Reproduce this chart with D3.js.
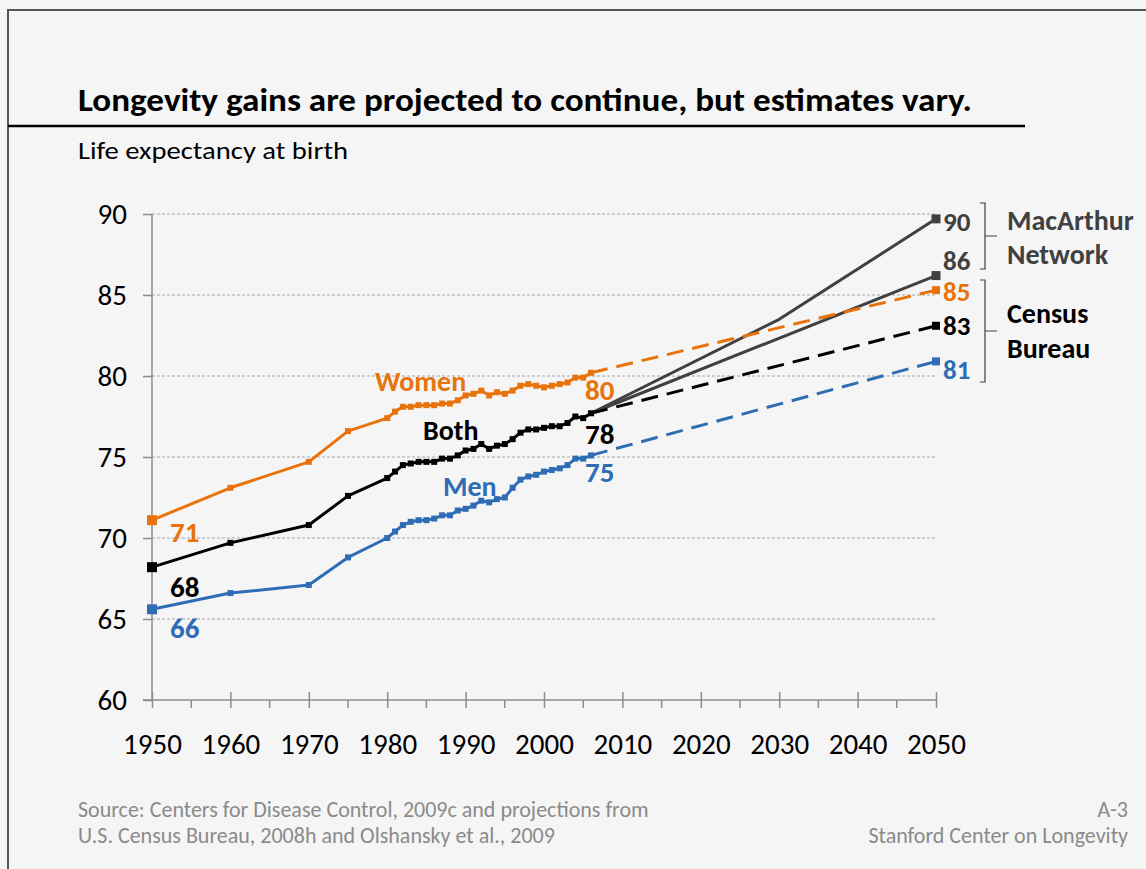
<!DOCTYPE html>
<html><head><meta charset="utf-8">
<script src="https://cdn.jsdelivr.net/npm/d3@7"></script>
<style>
html,body{margin:0;padding:0;background:#f5f5f5;}
svg{display:block;}
text{font-family:Carlito,Calibri,Lato,"Open Sans",sans-serif;}
</style></head>
<body>
<svg id="chart" width="1146" height="869"></svg>
<script>
// ---- Data ----
const histYears = [1950,1960,1970,1975,1980,1981,1982,1983,1984,1985,1986,1987,1988,1989,1990,1991,1992,1993,1994,1995,1996,1997,1998,1999,2000,2001,2002,2003,2004,2005,2006];
const women = [71.1,73.1,74.7,76.6,77.4,77.8,78.1,78.1,78.2,78.2,78.2,78.3,78.3,78.5,78.8,78.9,79.1,78.8,79.0,78.9,79.1,79.4,79.5,79.4,79.3,79.4,79.5,79.6,79.9,79.9,80.2];
const both  = [68.2,69.7,70.8,72.6,73.7,74.1,74.5,74.6,74.7,74.7,74.7,74.9,74.9,75.1,75.4,75.5,75.8,75.5,75.7,75.8,76.1,76.5,76.7,76.7,76.8,76.9,76.9,77.1,77.5,77.4,77.7];
const men   = [65.6,66.6,67.1,68.8,70.0,70.4,70.8,71.0,71.1,71.1,71.2,71.4,71.4,71.7,71.8,72.0,72.3,72.2,72.4,72.5,73.1,73.6,73.8,73.9,74.1,74.2,74.3,74.5,74.9,74.9,75.1];
const projYears = [2006,2050];
const censusWomen = [80.2,85.3];
const censusBoth  = [77.7,83.1];
const censusMen   = [75.1,80.9];
const macYearsHigh = [2006,2030,2050];
const macHigh = [77.7,83.5,89.7];
const macYearsLow = [2006,2050];
const macLow = [77.7,86.2];
const yTicks = [60,65,70,75,80,85,90];
const xTicks = [1950,1960,1970,1980,1990,2000,2010,2020,2030,2040,2050];
const xMinorTicks = [1955,1965,1975,1985,1995,2005,2015,2025,2035,2045];
// end-of-line value labels (text, vertical anchor in data units)
const endLabels = [
  {text:"90", at:89.5, color:"#404040"},
  {text:"86", at:87.1, color:"#404040"},
  {text:"85", at:85.2, color:"#e8730c"},
  {text:"83", at:83.1, color:"#000000"},
  {text:"81", at:80.4, color:"#2e6db4"}
];

// ---- Styles ----
const C = {women:"#e8730c", both:"#000000", men:"#2e6db4", mac:"#404040", grid:"#a6a6a6", axis:"#8c8c8c", src:"#8a8a8a"};
const F = "Carlito,Calibri,Lato,sans-serif";

const svg = d3.select("#chart");
const x = d3.scaleLinear().domain([1950,2050]).range([152,936]);
const y = d3.scaleLinear().domain([60,90]).range([700,214]);

// frame
svg.append("rect").attr("x",8).attr("y",10).attr("width",1150).attr("height",880)
  .attr("fill","#f5f5f5").attr("stroke","#555").attr("stroke-width",2);

// title
svg.append("text").attr("x",78).attr("y",111).attr("font-size",32).attr("font-weight","bold")
  .attr("fill","#000").text("Longevity gains are projected to continue, but estimates vary.")
  .attr("textLength",894).attr("lengthAdjust","spacingAndGlyphs");
svg.append("line").attr("x1",8).attr("x2",1025).attr("y1",126).attr("y2",126).attr("stroke","#000").attr("stroke-width",2.5);
svg.append("text").attr("x",78).attr("y",159).attr("font-size",25).attr("fill","#000")
  .text("Life expectancy at birth").attr("textLength",270).attr("lengthAdjust","spacingAndGlyphs");

// gridlines
svg.append("g").selectAll("line").data(yTicks.filter(d=>d>60)).join("line")
  .attr("x1",x(1950)).attr("x2",x(2050)).attr("y1",d=>y(d)).attr("y2",d=>y(d))
  .attr("stroke",C.grid).attr("stroke-width",1).attr("stroke-dasharray","3,2");

// y axis
const yAxis = d3.axisLeft(y).tickValues(yTicks).tickSize(9).tickPadding(16).tickFormat(d3.format("d"));
const gy = svg.append("g").attr("transform",`translate(${x(1950)},0)`).call(yAxis);
gy.select(".domain").attr("stroke",C.axis).attr("stroke-width",1.5).attr("d",`M0,${y(90)}V${y(60)}`);
gy.selectAll(".tick line").attr("stroke",C.axis).attr("stroke-width",1.5);
gy.selectAll(".tick text").attr("font-size",29).attr("fill","#000").attr("font-family",F);

// x axis
const xAxis = d3.axisBottom(x).tickValues(xTicks).tickSize(8).tickPadding(25).tickFormat(d3.format("d"));
const gx = svg.append("g").attr("transform",`translate(0,${y(60)})`).call(xAxis);
gx.select(".domain").attr("stroke",C.axis).attr("stroke-width",1.5).attr("d",`M${x(1950)-9},0H${x(2050)}`);
gx.selectAll(".tick line").attr("stroke",C.axis).attr("stroke-width",1.5).attr("y1",-8);
gx.selectAll(".tick text").attr("font-size",29).attr("fill","#000").attr("font-family",F);
svg.append("g").selectAll("line").data(xMinorTicks).join("line")
  .attr("x1",d=>x(d)).attr("x2",d=>x(d)).attr("y1",y(60)).attr("y2",y(60)+8)
  .attr("stroke",C.axis).attr("stroke-width",1.5);

const line = d3.line().x(d=>x(d[0])).y(d=>y(d[1]));
const zip = (a,b)=>a.map((v,i)=>[v,b[i]]);

function drawLine(pts,color,dash,width){
  svg.append("path").datum(pts).attr("d",line).attr("fill","none").attr("stroke",color)
    .attr("stroke-width",width||3).attr("stroke-dasharray",dash||null).attr("stroke-linejoin","round");
}
function drawMarkers(pts,color,size){
  svg.append("g").selectAll("rect").data(pts).join("rect")
    .attr("x",d=>x(d[0])-size/2).attr("y",d=>y(d[1])-size/2).attr("width",size).attr("height",size).attr("fill",color);
}

// MacArthur
drawLine(zip(macYearsHigh,macHigh),C.mac,null,3);
drawLine(zip(macYearsLow,macLow),C.mac,null,3);
drawMarkers([[2050,macHigh[2]],[2050,macLow[1]]],C.mac,9);

// Census projections
drawLine(zip(projYears,censusWomen),C.women,"17,9",3);
drawLine(zip(projYears,censusBoth),C.both,"17,9",3);
drawLine(zip(projYears,censusMen),C.men,"17,9",3);
drawMarkers([[2050,censusWomen[1]]],C.women,8);
drawMarkers([[2050,censusBoth[1]]],C.both,8);
drawMarkers([[2050,censusMen[1]]],C.men,8);

// historic
[[women,C.women],[both,C.both],[men,C.men]].forEach(([vals,col])=>{
  const pts = zip(histYears,vals);
  drawLine(pts,col,null,3);
  drawMarkers(pts.slice(1),col,6);
  drawMarkers([pts[0]],col,10);
});

// labels
function lab(txt,xx,yy,col,size,anchor){
  svg.append("text").attr("x",xx).attr("y",yy).attr("font-size",size||29).attr("font-weight","bold")
    .attr("fill",col).attr("text-anchor",anchor||"start").text(txt);
}
lab("Women",375,391,C.women,28);
lab("Both",423,440,C.both,28);
lab("Men",443,496,C.men,28);
lab("80",585,400,C.women,29);
lab("78",585,444,C.both,29);
lab("75",585,482,C.men,29);
lab("71",170,542,C.women,29);
lab("68",170,597,C.both,29);
lab("66",170,638,C.men,29);
endLabels.forEach(d=>lab(d.text,943,y(d.at)+9,d.color,27));

// brackets
function bracket(y1,y2){
  const xm=985, tip=997, ym=(y1+y2)/2;
  svg.append("path").attr("d",`M${xm-5},${y1}H${xm}V${y2}H${xm-5}M${xm},${ym}H${tip}`)
    .attr("fill","none").attr("stroke","#404040").attr("stroke-width",1.2);
}
bracket(203,269);
bracket(280,382);
lab("MacArthur",1007,230,C.mac,28);
lab("Network",1007,264,C.mac,28);
lab("Census",1007,323,"#000",28);
lab("Bureau",1007,358,"#000",28);

// source
function src(txt,xx,yy,anchor){
  svg.append("text").attr("x",xx).attr("y",yy).attr("font-size",22).attr("fill",C.src)
    .attr("text-anchor",anchor||"start").text(txt);
}
src("Source: Centers for Disease Control, 2009c and projections from",78,817);
src("U.S. Census Bureau, 2008h and Olshansky et al., 2009",78,843);
src("A-3",1128,817,"end");
src("Stanford Center on Longevity",1128,843,"end");
</script>
</body></html>
